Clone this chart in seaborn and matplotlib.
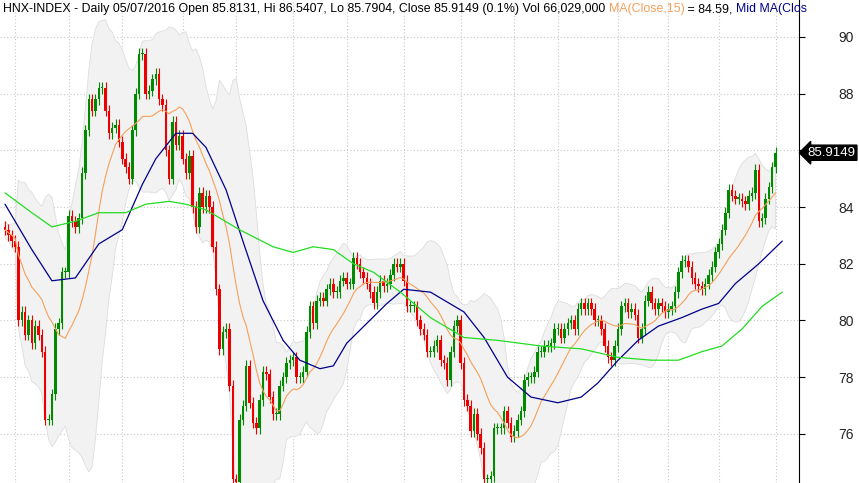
import numpy as np
import pandas as pd
import matplotlib
matplotlib.use("Agg")
import matplotlib.pyplot as plt
import seaborn as sns

closes = [83.2, 83.0, 82.8, 82.6, 80.0, 80.3, 79.5, 80.0, 79.2, 79.8, 79.5, 78.9,
 76.5, 76.5, 77.4, 79.7, 79.9, 81.7, 81.7, 83.7, 83.5, 83.3, 83.6, 85.2, 86.7, 87.8, 87.4, 87.8,
 88.2, 88.2, 87.4, 86.6, 86.8, 86.9, 86.3, 85.7, 85.4, 85.0, 86.7, 88.0, 89.4, 89.4, 88.0, 88.1,
 88.5, 88.7, 87.8, 87.6, 86.0, 85.0, 87.0, 86.2, 86.5, 85.7, 85.2, 85.8, 84.0, 83.3, 84.5, 84.0,
 84.4, 84.0, 82.6, 81.1, 79.0, 79.6, 79.7, 77.7, 74.4, 74.3, 76.5, 77.0, 78.4, 77.1, 76.4, 76.2,
 77.2, 78.2, 78.1, 77.3, 76.7, 76.7, 77.7, 78.0, 78.5, 78.6, 78.7, 78.0, 78.0, 78.2, 79.6, 80.5,
 79.9, 80.7, 80.8, 80.7, 81.1, 81.3, 81.0, 81.0, 81.4, 81.5, 81.3, 81.3, 82.2, 82.0, 81.7, 81.5,
 81.3, 81.0, 80.6, 81.0, 81.4, 81.2, 81.3, 81.6, 82.0, 81.9, 82.0, 81.4, 80.5, 80.5, 80.5, 80.0,
 79.7, 79.5, 78.9, 78.9,
 79.1, 79.3, 78.6, 78.5, 77.9, 78.9, 79.8, 80.0, 78.5, 77.2, 77.0, 76.1, 76.7, 76.0, 75.5, 74.4,
 74.4, 74.5, 76.2, 76.2, 76.2, 76.8, 76.4, 75.9, 76.1, 76.5, 76.8, 77.9, 78.0, 78.0, 78.2, 78.9,
 78.9, 79.1, 79.1, 79.2, 79.7, 79.7, 79.4, 79.7, 79.9, 80.0, 79.7, 80.4, 80.6, 80.4, 80.6, 80.4,
 80.0, 80.0, 79.7, 79.1, 78.7, 78.6, 79.1, 79.7, 80.5, 80.6, 80.3, 80.4, 80.2, 79.4, 79.7, 80.7,
 81.0, 80.6, 80.4, 80.6, 80.5, 80.3, 80.4, 80.5, 81.0, 81.7, 82.1, 82.1, 81.9, 81.5, 81.3, 81.2,
 81.1, 81.3, 81.6, 81.9, 82.4, 82.7, 83.2, 83.8, 84.6, 84.4, 84.3, 84.3, 84.2, 84.1, 84.4, 84.5,
 85.3, 83.5, 83.6, 84.3, 84.7, 85.4, 85.9149]

mid_idx = [0, 8, 14, 21, 28, 35, 41, 45, 51, 56, 60, 66, 71, 77, 83, 88, 94, 98, 102, 108, 114, 119,
           127, 137, 143, 150, 157, 165, 172, 177, 183, 189, 195, 202, 208, 213, 218, 225, 232]
mid_val = [84.1, 82.5, 81.4, 81.5, 82.7, 83.2, 84.8, 85.7, 86.6, 86.6, 86.1, 84.6, 82.8, 80.7, 79.3,
           78.6, 78.3, 78.4, 79.2, 79.9, 80.6, 81.1, 81.0, 80.3, 79.4, 78.0, 77.3, 77.1, 77.3, 77.8,
           78.6, 79.3, 79.8, 80.1, 80.4, 80.6, 81.3, 82.0, 82.8]
long_idx = [0, 8, 14, 21, 28, 36, 42, 49, 54, 60, 70, 80, 86, 92, 98, 104, 110, 118, 127, 137, 147,
            160, 172, 183, 193, 201, 208, 214, 220, 226, 232]
long_val = [84.5, 83.8, 83.3, 83.5, 83.8, 83.8, 84.1, 84.2, 84.1, 83.9, 83.2, 82.6, 82.4, 82.6, 82.5,
            82.0, 81.7, 81.0, 80.1, 79.4, 79.3, 79.1, 79.0, 78.7, 78.6, 78.6, 78.9, 79.1, 79.7, 80.5, 81.0]
month_idx = [3, 19, 35, 53, 69, 86, 102, 119, 136, 152, 165, 183, 198, 213, 230]
ytick_vals = [76, 78, 80, 82, 84, 86, 88, 90]

sns.set_style("white")
plt.rcParams['font.family'] = ['Liberation Sans', 'DejaVu Sans']

c = pd.Series(closes)
o = c.shift(1).fillna(c.iloc[0] + 0.1)
n = len(c)
x = np.arange(n)
ma15 = c.rolling(15, min_periods=1).mean()
sd = c.rolling(15, min_periods=2).std().bfill()
up_b = ma15 + 2 * sd
lo_b = ma15 - 2 * sd

fig = plt.figure(figsize=(8.59, 4.83), dpi=100)
ax = fig.add_axes([0, 0, 799 / 859, 1])
ax.set_xlim(-1.5, 237.0)
ax.set_ylim(74.27, 91.30)

ax.fill_between(x, lo_b, up_b, color='#f2f2f2', edgecolor='#dddddd', linewidth=0.6, zorder=1)
for m in month_idx:
    ax.axvline(m, color='#c8c8c8', ls=(0, (1, 2)), lw=0.8, zorder=0)
for v in ytick_vals:
    ax.axhline(v, color='#c8c8c8', ls=(0, (1, 2)), lw=0.8, zorder=0)

hi = np.maximum(o, c) + 0.2
lo = np.minimum(o, c) - 0.2
upm = c >= o
cols = np.where(upm, '#008a00', '#ee0000')
ax.vlines(x, lo, hi, colors=cols, lw=0.8, zorder=3)
body = np.maximum(np.abs(c - o), 0.04)
ax.bar(x, body, bottom=np.minimum(o, c), width=0.75, color=cols, linewidth=0, zorder=3)

sns.lineplot(x=x, y=ma15, ax=ax, color='#f5a05a', lw=0.8, zorder=4)
sns.lineplot(x=mid_idx, y=mid_val, ax=ax, color='#00008b', lw=0.9, zorder=4)
sns.lineplot(x=long_idx, y=long_val, ax=ax, color='#22dd22', lw=0.9, zorder=4)

ax.set_xticks([])
ax.yaxis.tick_right()
ax.set_yticks(ytick_vals)
ax.set_yticklabels(['' if v == 86 else str(v) for v in ytick_vals], fontsize=10)
ax.tick_params(axis='y', length=4, pad=24, direction='out', color='black')
ax.set_xlabel(''); ax.set_ylabel('')
for s in ['top', 'left', 'bottom']:
    ax.spines[s].set_visible(False)
ax.spines['right'].set_color('black')
ax.spines['right'].set_linewidth(0.8)

# last price tag
ax.annotate('85.9149', xy=(1.0, closes[-1]), xycoords=('axes fraction', 'data'),
            xytext=(6, 0), textcoords='offset points', ha='left', va='center',
            color='white', fontsize=9.5, annotation_clip=False, zorder=10,
            bbox=dict(boxstyle='larrow,pad=0.12', fc='black', ec='black'))

# header
parts = [("HNX-INDEX - Daily 05/07/2016 Open 85.8131, Hi 86.5407, Lo 85.7904, Close 85.9149 (0.1%) Vol 66,029,000 ", 'black'),
         ("MA(Close,15)", '#f5a05a'), (" = 84.59, ", 'black'), ("Mid MA(Clos", '#00008b')]
fig.canvas.draw()
r = fig.canvas.get_renderer()
xp = 3
for t, col in parts:
    tx = fig.text(xp / 859, 1 - 9 / 483, t, color=col, fontsize=8.9, va='center', ha='left')
    bb = tx.get_window_extent(renderer=r)
    xp += bb.width

fig.savefig('out.png', dpi=100)
